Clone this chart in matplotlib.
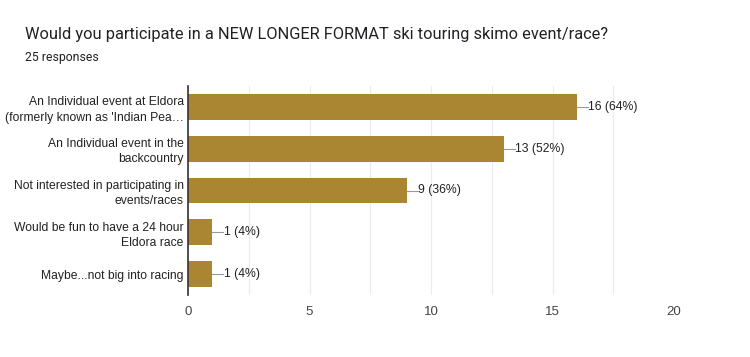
import matplotlib
matplotlib.use("Agg")
import matplotlib.pyplot as plt
import numpy as np

plt.rcParams['font.family'] = ['Liberation Sans', 'DejaVu Sans']

# data
labels = [
    "An Individual event at Eldora\n(formerly known as 'Indian Pea\u2026",
    "An Individual event in the\nbackcountry",
    "Not interested in participating in\nevents/races",
    "Would be fun to have a 24 hour\nEldora race",
    "Maybe...not big into racing",
]
counts = [16, 13, 9, 1, 1]
total = 25
bar_color = '#ab8632'

fig = plt.figure(figsize=(7.5, 3.57), dpi=100)
ax = fig.add_axes([188 / 750, 1 - 295 / 357, (674 - 188) / 750, (295 - 86) / 357])

y = np.arange(len(labels))
ax.barh(y, counts, height=0.62, color=bar_color, zorder=3)
ax.set_ylim(len(labels) - 0.5, -0.5)
ax.set_xlim(0, 20)
ax.set_yticks(y)
ax.set_yticklabels(labels, fontsize=8.7, color='#222222', linespacing=1.35,
                   multialignment='right')
ax.set_xticks([0, 5, 10, 15, 20])
ax.set_xticks(np.arange(0, 20.1, 2.5), minor=True)
ax.tick_params(axis='x', labelsize=9.5, colors='#444444', length=0, pad=8, which='both')
ax.tick_params(axis='y', length=0, pad=3)
ax.grid(axis='x', which='both', color='#ececec', linewidth=0.8, zorder=0)

for s in ['top', 'right']:
    ax.spines[s].set_visible(False)
ax.spines['bottom'].set_visible(False)
ax.spines['left'].set_color('#333333')
ax.spines['left'].set_linewidth(1.2)
ax.spines['left'].set_zorder(4)

for yi, c in zip(y, counts):
    ax.plot([c, c + 0.45], [yi, yi], color='#999999', linewidth=0.8, zorder=4)
    ax.text(c + 0.47, yi, f"{c} ({round(c * 100 / total)}%)", va='center', ha='left',
            fontsize=8.8, color='#222222')

fig.text(25 / 750, 1 - 35 / 357, "Would you participate in a NEW LONGER FORMAT ski touring skimo event/race?",
         fontsize=11.8, color='#202124', va='center', ha='left', family=['Roboto', 'DejaVu Sans'])
fig.text(25 / 750, 1 - 57 / 357, "25 responses", fontsize=8.8, color='#202124', va='center', ha='left',
         family=['Roboto', 'DejaVu Sans'])

fig.savefig('out.png', dpi=100, facecolor='white')
